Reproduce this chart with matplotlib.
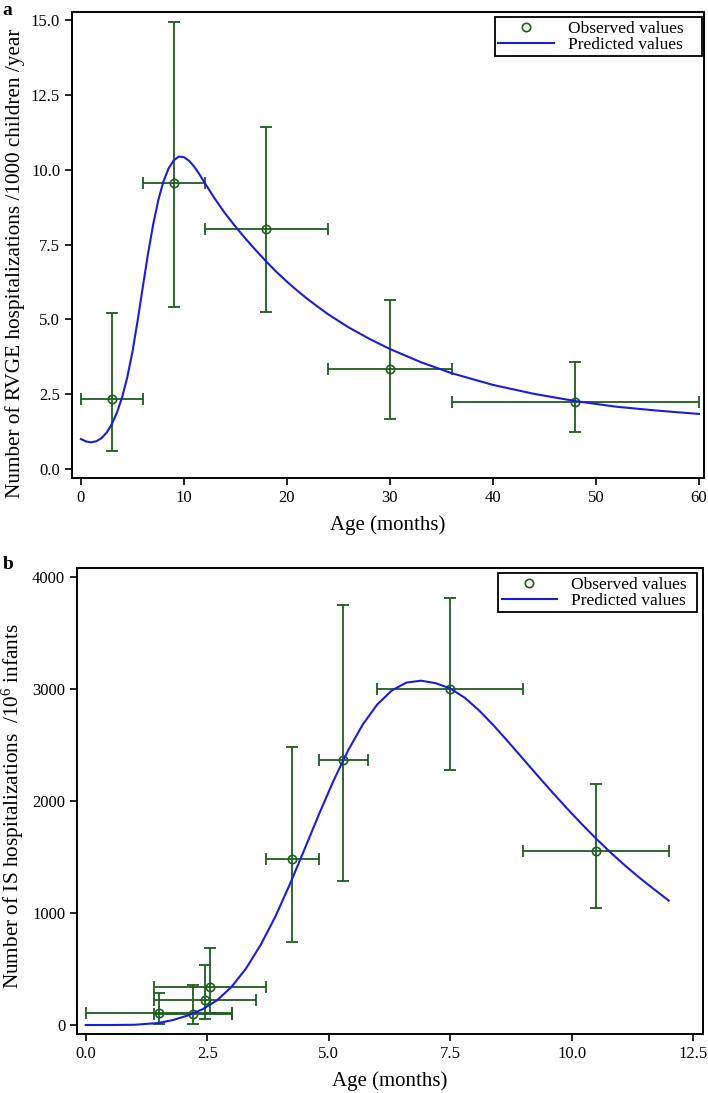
#!/usr/bin/env python3
"""
Observed vs predicted hospitalization rates by age (RVGE and IS panels)
"""

import matplotlib
matplotlib.use("Agg")
import matplotlib.pyplot as plt
from matplotlib.ticker import FormatStrFormatter

plt.rcParams['font.family'] = ['Liberation Serif', 'DejaVu Serif']
plt.rcParams['mathtext.fontset'] = 'custom'
plt.rcParams['mathtext.rm'] = 'Liberation Serif'
plt.rcParams['mathtext.it'] = 'Liberation Serif:italic'
plt.rcParams['mathtext.default'] = 'rm'

GREEN = '#1e5e1e'
BLUE = '#1c1ce0'

# Panel a: RVGE hospitalizations /1000 children /year
a_age = [3, 9, 18, 30, 48]
a_age_lo = [0, 6, 12, 24, 36]
a_age_hi = [6, 12, 24, 36, 60]
a_obs = [2.33, 9.56, 8.03, 3.34, 2.25]
a_obs_lo = [0.60, 5.41, 5.24, 1.66, 1.25]
a_obs_hi = [5.21, 14.92, 11.42, 5.64, 3.56]

a_pred_x = [0, 0.5, 1, 1.5, 2, 2.5, 3, 3.5, 4, 4.5, 5, 5.5, 6, 6.5, 7, 7.5,
            8, 8.5, 9, 9.5, 10, 10.5, 11, 11.5, 12, 13, 14, 15, 16, 17, 18,
            19, 20, 21, 22, 23, 24, 26, 28, 30, 33, 36, 40, 44, 48, 52, 56, 60]
a_pred_y = [1.0, 0.92, 0.89, 0.93, 1.03, 1.22, 1.5, 1.89, 2.4, 3.07, 3.92,
            4.95, 6.07, 7.17, 8.15, 8.97, 9.6, 10.04, 10.31, 10.44, 10.42,
            10.3, 10.1, 9.85, 9.57, 9.03, 8.54, 8.1, 7.69, 7.3, 6.93, 6.58,
            6.26, 5.96, 5.68, 5.42, 5.17, 4.73, 4.35, 4.01, 3.57, 3.2, 2.81,
            2.51, 2.27, 2.08, 1.95, 1.84]

# Panel b: IS hospitalizations /10^6 infants
b_age = [1.5, 2.2, 2.45, 2.55, 4.25, 5.3, 7.5, 10.5]
b_age_lo = [0.0, 1.4, 1.4, 1.4, 3.7, 4.8, 6.0, 9.0]
b_age_hi = [3.0, 3.0, 3.5, 3.7, 4.8, 5.8, 9.0, 12.0]
b_obs = [104, 95, 223, 336, 1482, 2360, 3000, 1554]
b_obs_lo = [10, 5, 51, 110, 741, 1288, 2277, 1047]
b_obs_hi = [289, 357, 536, 690, 2479, 3744, 3810, 2152]

b_pred_x = [0, 0.5, 1.0, 1.5, 1.8, 2.1, 2.4, 2.7, 3.0, 3.3, 3.6, 3.9, 4.2,
            4.5, 4.8, 5.1, 5.4, 5.7, 6.0, 6.3, 6.6, 6.9, 7.2, 7.5, 7.8, 8.1,
            8.4, 8.7, 9.0, 9.3, 9.6, 9.9, 10.2, 10.5, 10.8, 11.1, 11.4, 11.7,
            12.0]
b_pred_y = [0, 0, 2, 18, 45, 85, 140, 220, 340, 505, 715, 965, 1255, 1565,
            1880, 2180, 2450, 2680, 2860, 2985, 3055, 3072, 3050, 3003, 2920,
            2805, 2670, 2525, 2375, 2225, 2078, 1935, 1797, 1665, 1540, 1423,
            1313, 1210, 1110]


def draw_panel(ax, x, xlo, xhi, y, ylo, yhi, px, py, leg_box):
    """Error-bar points plus predicted curve"""
    xerr = [[xi - lo for xi, lo in zip(x, xlo)], [hi - xi for xi, hi in zip(x, xhi)]]
    yerr = [[yi - lo for yi, lo in zip(y, ylo)], [hi - yi for yi, hi in zip(y, yhi)]]
    ax.errorbar(x, y, xerr=xerr, yerr=yerr, fmt='none', ecolor=GREEN,
                elinewidth=1.3, capsize=4.5, capthick=1.3, zorder=2)
    ax.plot(x, y, 'o', mfc='none', mec=GREEN, mew=1.2, ms=6,
            label='Observed values', zorder=3)
    ax.plot(px, py, color=BLUE, lw=1.5, label='Predicted values', zorder=4)

    for s in ax.spines.values():
        s.set_linewidth(1.4)
    ax.tick_params(direction='out', length=5, width=1.2, labelsize=12,
                   top=False, right=False)
    ax.set_xlabel('Age (months)', fontsize=15, labelpad=7)
    leg = ax.legend(loc='upper left', bbox_to_anchor=leg_box, mode='expand',
                    fontsize=12.5, frameon=True, fancybox=False,
                    edgecolor='black', framealpha=1, borderaxespad=0,
                    labelspacing=0.0, borderpad=0.2, handlelength=3.2,
                    handletextpad=0.8)
    leg.get_frame().set_linewidth(1.3)


fig = plt.figure(figsize=(7.08, 10.93), dpi=100)

# Panel a
ax1 = fig.add_axes([0.1017, 0.5627, 0.8927, 0.4263])
draw_panel(ax1, a_age, a_age_lo, a_age_hi, a_obs, a_obs_lo, a_obs_hi,
           a_pred_x, a_pred_y, (0.669, 0.989, 0.3275, 0))
ax1.set_xlim(-0.87, 60.5)
ax1.set_ylim(-0.3, 15.27)
ax1.set_xticks([0, 10, 20, 30, 40, 50, 60])
ax1.set_yticks([0, 2.5, 5.0, 7.5, 10.0, 12.5, 15.0])
ax1.yaxis.set_major_formatter(FormatStrFormatter('%.1f'))
ax1.set_ylabel('Number of RVGE hospitalizations /1000 children /year',
               fontsize=15.3)
ax1.yaxis.set_label_coords(-0.075, 0.461)

# Panel b
ax2 = fig.add_axes([0.1088, 0.054, 0.8838, 0.4266])
draw_panel(ax2, b_age, b_age_lo, b_age_hi, b_obs, b_obs_lo, b_obs_hi,
           b_pred_x, b_pred_y, (0.673, 0.9886, 0.3176, 0))
ax2.set_xlim(-0.18, 12.7)
ax2.set_ylim(-80, 4080)
ax2.set_xticks([0, 2.5, 5.0, 7.5, 10.0, 12.5])
ax2.xaxis.set_major_formatter(FormatStrFormatter('%.1f'))
ax2.set_yticks([0, 1000, 2000, 3000, 4000])
ax2.set_ylabel('Number of IS hospitalizations  /10$^{6}$ infants',
               fontsize=15.3)
ax2.yaxis.set_label_coords(-0.081, 0.488)

# Panel letters
fig.text(0.004, 0.998, 'a', fontsize=14, fontweight='bold', va='top')
fig.text(0.004, 0.491, 'b', fontsize=14, fontweight='bold', va='top')

fig.savefig('out.png', dpi=100)
